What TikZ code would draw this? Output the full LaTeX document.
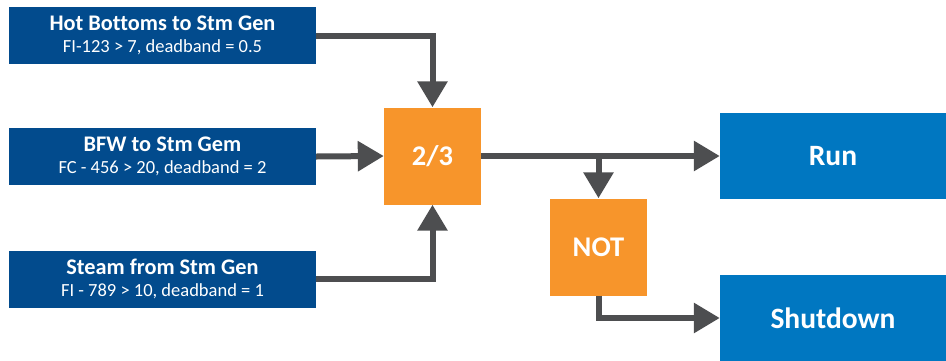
\documentclass[tikz,border=0pt]{standalone}
\usepackage{fontspec}
\setmainfont{Carlito}[Ligatures=NoCommon]
\usetikzlibrary{arrows.meta}
\definecolor{inblue}{HTML}{024B8D}
\definecolor{outblue}{HTML}{0077C1}
\definecolor{gateorange}{HTML}{F7952B}
\definecolor{wiregray}{HTML}{4D4E50}
\newcommand{\inlabel}[2]{{\fontsize{22.3}{22}\selectfont\bfseries #1}\\{\fontsize{18.5}{22}\selectfont #2}}

\begin{document}
\begin{tikzpicture}[x=1pt,y=-1pt,
		inbox/.style={fill=inblue,text=white,minimum width=307pt,minimum height=57pt,inner sep=0pt,align=center,font=\fontsize{18.5}{22}\selectfont},
		gate/.style={fill=gateorange,text=white,minimum width=97pt,minimum height=97pt,inner sep=0pt,font=\fontsize{28.5}{30}\selectfont\bfseries},
		outbox/.style={fill=outblue,text=white,minimum width=226pt,minimum height=86pt,inner sep=0pt,font=\fontsize{29.5}{30}\selectfont\bfseries},
		wire/.style={draw=wiregray,line width=6pt,-{Triangle[width=29pt,length=26pt]}}]
		\useasboundingbox (0,0) rectangle (946,360);
		% inputs
		\node[inbox] (hot) at (162.5,35.5) {\inlabel{Hot Bottoms to Stm Gen}{FI-123 > 7, deadband = 0.5}};
		\node[inbox] (bfw) at (162.5,156.5) {\inlabel{BFW to Stm Gem}{FC - 456 > 20, deadband = 2}};
		\node[inbox] (steam) at (162.5,279) {\inlabel{Steam from Stm Gen}{FI - 789 > 10, deadband = 1}};
		% logic
		\node[gate] (vote) at (432.5,156) {2/3};
		\node[gate] (inv) at (598.5,247) {NOT};
		% outputs
		\node[outbox] (run) at (833,156) {Run};
		\node[outbox] (shut) at (833,318) {Shutdown};
		\coordinate (split) at (inv.north |- vote.east);
		\draw[wire] (hot.east) -| (vote.north);
		\draw[wire] (bfw.east) -- (vote.west);
		\draw[wire] (steam.east) -| (vote.south);
		\draw[wire] (vote.east) -- (run.west);
		\draw[wire] (split) -- (inv.north);
		\draw[wire] (inv.south) |- (shut.west);
\end{tikzpicture}
\end{document}
